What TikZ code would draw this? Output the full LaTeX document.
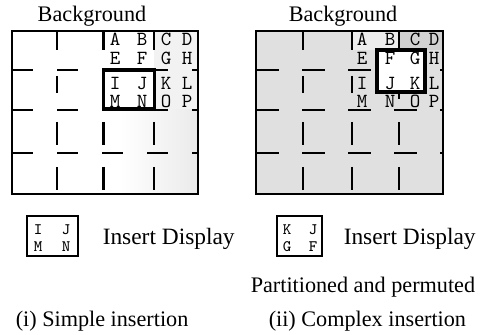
\documentclass[tikz,border=0pt]{standalone}
\usepackage{fontspec}
\setmainfont{Liberation Serif}
\newcommand\cellfont{\ttfamily\fontsize{10}{11}\selectfont}
\newcommand\smallcellfont{\ttfamily\fontsize{8}{9}\selectfont}
\newcommand\labelfont{\fontsize{11.1}{13}\selectfont}
\tikzset{every picture/.style={line width=0.75pt}}
\tikzset{
panel/.style={draw, line width=1pt},
gridline/.style={line width=1.4pt},
insertbox/.style={draw, line width=1.7pt},
cell/.style={font=\cellfont, inner sep=0pt, anchor=base},
smallcell/.style={font=\smallcellfont, inner sep=0pt, anchor=base},
caption/.style={font=\labelfont, inner sep=0pt, anchor=base west}}

\begin{document}
\begin{tikzpicture}[x=0.5pt,y=0.5pt,yscale=-1]
\useasboundingbox (0,0) rectangle (482,335);

%Shape: Rectangle [id:left panel shading]
\fill [gray!10] (154,31) rectangle (198,110) ;
\shade [left color=white, right color=gray!16] (120,110) rectangle (198,194) ;
%Shape: Rectangle [id:right panel shading]
\fill [gray!24] (256,31) rectangle (443,194) ;
\fill [gray!14] (352,31) rectangle (399,50) ;
\fill [gray!36] (399,31) rectangle (443,50) ;

%Straight Lines [id:left rows]
\draw [gridline] (12,70) -- (33,70)(57,70) -- (78,70)(102,70) -- (123,70)(147,70) -- (168,70)(192,70) -- (198,70) ;
\draw [gridline] (12,110) -- (33,110)(57,110) -- (78,110)(102,110) -- (123,110)(147,110) -- (168,110)(192,110) -- (198,110) ;
\draw [gridline] (12,153) -- (33,153)(57,153) -- (78,153)(102,153) -- (123,153)(147,153) -- (168,153)(192,153) -- (198,153) ;
%Straight Lines [id:left columns]
\draw [gridline] (57,31) -- (57,50)(57,76) -- (57,93)(57,122) -- (57,145)(57,167) -- (57,190) ;
\draw [gridline] (103.5,31) -- (103.5,50)(103.5,122) -- (103.5,145)(103.5,167) -- (103.5,190) ;
\draw [gridline] (154,31) -- (154,50)(154,122) -- (154,145)(154,167) -- (154,190) ;

%Straight Lines [id:right rows]
\draw [gridline] (256,70) -- (279,70)(302,70) -- (325,70)(348,70) -- (371,70)(394,70) -- (417,70)(440,70) -- (443,70) ;
\draw [gridline] (256,110) -- (279,110)(302,110) -- (325,110)(348,110) -- (371,110)(394,110) -- (417,110)(440,110) -- (443,110) ;
\draw [gridline] (256,153) -- (279,153)(302,153) -- (325,153)(348,153) -- (371,153)(394,153) -- (417,153)(440,153) -- (443,153) ;
%Straight Lines [id:right columns]
\draw [gridline] (303,31) -- (303,50)(303,76) -- (303,93)(303,122) -- (303,145)(303,167) -- (303,190) ;
\draw [gridline] (352,31) -- (352,50)(352,76) -- (352,93)(352,122) -- (352,145)(352,167) -- (352,190) ;
\draw [gridline] (399,31) -- (399,50)(399,76) -- (399,99)(399,122) -- (399,145)(399,167) -- (399,190) ;

%Shape: Rectangle [id:panels]
\draw [panel] (12,31) rectangle (198,194) ;
\draw [panel] (256,31) rectangle (443,194) ;

%Shape: Rectangle [id:inserted windows]
\draw [insertbox] (103.5,70) rectangle (154.5,109) ;
\draw [insertbox, fill=white] (377,50) rectangle (425,92) ;

% Text Node
\draw (92,22) node (lbg) [font=\labelfont, inner sep=0pt, anchor=base] {Background};
\draw (343,22) node (rbg) [font=\labelfont, inner sep=0pt, anchor=base] {Background};

% Text Node
\draw (115,46) node (la) [cell] {A};
\draw (142,46) node (lb) [cell] {B};
\draw (166,46) node (lc) [cell] {C};
\draw (187,46) node (ld) [cell] {D};
\draw (115,65) node (le) [cell] {E};
\draw (142,65) node (lf) [cell] {F};
\draw (166,65) node (lg) [cell] {G};
\draw (187,65) node (lh) [cell] {H};
\draw (115,90) node (li) [cell] {I};
\draw (142,90) node (lj) [cell] {J};
\draw (166,90) node (lk) [cell] {K};
\draw (187,90) node (ll) [cell] {L};
\draw (115,108) node (lm) [cell] {M};
\draw (142,108) node (ln) [cell] {N};
\draw (166,108) node (lo) [cell] {O};
\draw (187,108) node (lp) [cell] {P};

% Text Node
\draw (362,46) node (ra) [cell] {A};
\draw (390,46) node (rb) [cell] {B};
\draw (415,46) node (rc) [cell] {C};
\draw (434,46) node (rd) [cell] {D};
\draw (362,65) node (re) [cell] {E};
\draw (390,65) node (rf) [cell] {F};
\draw (415,65) node (rg) [cell] {G};
\draw (434,65) node (rh) [cell] {H};
\draw (362,90) node (ri) [cell] {I};
\draw (390,90) node (rj) [cell] {J};
\draw (415,90) node (rk) [cell] {K};
\draw (434,90) node (rl) [cell] {L};
\draw (362,108) node (rm) [cell] {M};
\draw (390,108) node (rn) [cell] {N};
\draw (415,108) node (ro) [cell] {O};
\draw (434,108) node (rp) [cell] {P};

% Text Node
\draw [insertbox, line width=1.3pt] (27,216) rectangle (78,256) ;
\draw (38,235) node (si) [smallcell] {I};
\draw (66,235) node (sj) [smallcell] {J};
\draw (38,252) node (sm) [smallcell] {M};
\draw (66,252) node (sn) [smallcell] {N};
\draw (102,245) node (lins) [caption, font=\fontsize{11.7}{13}\selectfont] {Insert Display};

% Text Node
\draw [insertbox, line width=1.3pt] (277,216) rectangle (322,256) ;
\draw (287,235) node (ck) [smallcell] {K};
\draw (313,235) node (cj) [smallcell] {J};
\draw (287,252) node (cg) [smallcell] {G};
\draw (313,252) node (cf) [smallcell] {F};
\draw (343,245) node (rins) [caption, font=\fontsize{11.7}{13}\selectfont] {Insert Display};

% Text Node
\draw (250,293) node (perm) [caption] {Partitioned and permuted};
\draw (15,327) node (simple) [caption] {(i) Simple insertion};
\draw (268,327) node (complex) [caption] {(ii) Complex insertion};

\end{tikzpicture}
\end{document}
